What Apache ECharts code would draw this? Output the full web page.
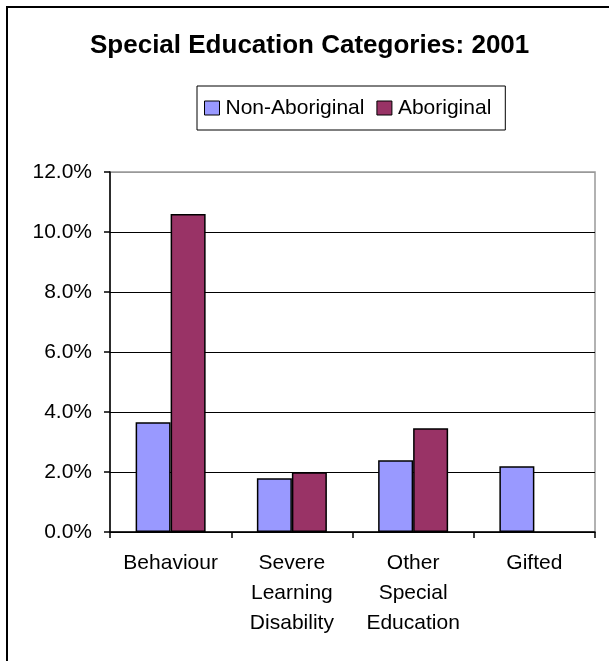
<!DOCTYPE html>
<html>
<head>
<meta charset="utf-8">
<script src="https://cdn.jsdelivr.net/npm/echarts@6/dist/echarts.min.js"></script>
<style>
html,body{margin:0;padding:0;background:#fff;}
#c{width:609px;height:661px;}
</style>
</head>
<body>
<div id="c"></div>
<script>
var categories = ['Behaviour', 'Severe\nLearning\nDisability', 'Other\nSpecial\nEducation', 'Gifted'];
var nonAboriginal = [3.66, 1.79, 2.39, 2.19];
var aboriginal = [10.6, 1.99, 3.46, null];
var seriesNames = ['Non-Aboriginal', 'Aboriginal'];
var titleText = 'Special Education Categories: 2001';

var FONT = '"Liberation Sans", Arial, sans-serif';
var chart = echarts.init(document.getElementById('c'), null, {renderer: 'canvas'});
chart.setOption({
  animation: false,
  backgroundColor: '#fff',
  textStyle: {fontFamily: FONT},
  graphic: [{
    type: 'rect',
    shape: {x: 7, y: 7, width: 640, height: 700},
    style: {fill: 'none', stroke: '#000', lineWidth: 2},
    silent: true,
    z: 100
  }],
  title: {
    text: titleText,
    left: 90,
    top: 33,
    padding: 0,
    textStyle: {fontFamily: FONT, fontSize: 26, fontWeight: 'bold', color: '#000'}
  },
  legend: {
    data: seriesNames,
    left: 197,
    top: 86,
    orient: 'horizontal',
    padding: [10, 14, 10, 7],
    itemGap: 12,
    itemWidth: 15,
    itemHeight: 14,
    icon: 'rect',
    borderColor: '#000',
    borderWidth: 1,
    itemStyle: {borderColor: '#000', borderWidth: 1},
    textStyle: {fontFamily: FONT, fontSize: 21, color: '#000', lineHeight: 24, padding: [0, 0, 0, 1]}
  },
  grid: {
    left: 110, right: 14, top: 172, bottom: 129,
    show: true, borderColor: '#999', borderWidth: 1.5, backgroundColor: '#fff',
    containLabel: false
  },
  xAxis: {
    type: 'category',
    data: categories,
    axisLine: {lineStyle: {color: '#000', width: 1.5}},
    axisTick: {show: true, length: 6, lineStyle: {color: '#000', width: 1.5}},
    axisLabel: {fontFamily: FONT, fontSize: 21, color: '#000', lineHeight: 30, margin: 16, interval: 0}
  },
  yAxis: {
    type: 'value',
    min: 0, max: 12, interval: 2,
    axisLine: {show: true, lineStyle: {color: '#000', width: 1.5}},
    axisTick: {show: true, length: 6, lineStyle: {color: '#000', width: 1.5}},
    axisLabel: {fontFamily: FONT, fontSize: 21, color: '#000', margin: 18,
      formatter: function (v) { return v.toFixed(1) + '%'; }},
    splitLine: {show: true, lineStyle: {color: ['#000', '#000', '#000', '#000', '#000', '#000', '#999'], width: 1}}
  },
  series: [{
    name: seriesNames[0],
    type: 'bar',
    data: nonAboriginal,
    barWidth: 35,
    barGap: '0%',
    itemStyle: {color: '#9999FF', borderColor: '#000', borderWidth: 1.5}
  }, {
    name: seriesNames[1],
    type: 'bar',
    data: aboriginal,
    barWidth: 35,
    barGap: '0%',
    itemStyle: {color: '#993366', borderColor: '#000', borderWidth: 1.5}
  }]
});
</script>
</body>
</html>
